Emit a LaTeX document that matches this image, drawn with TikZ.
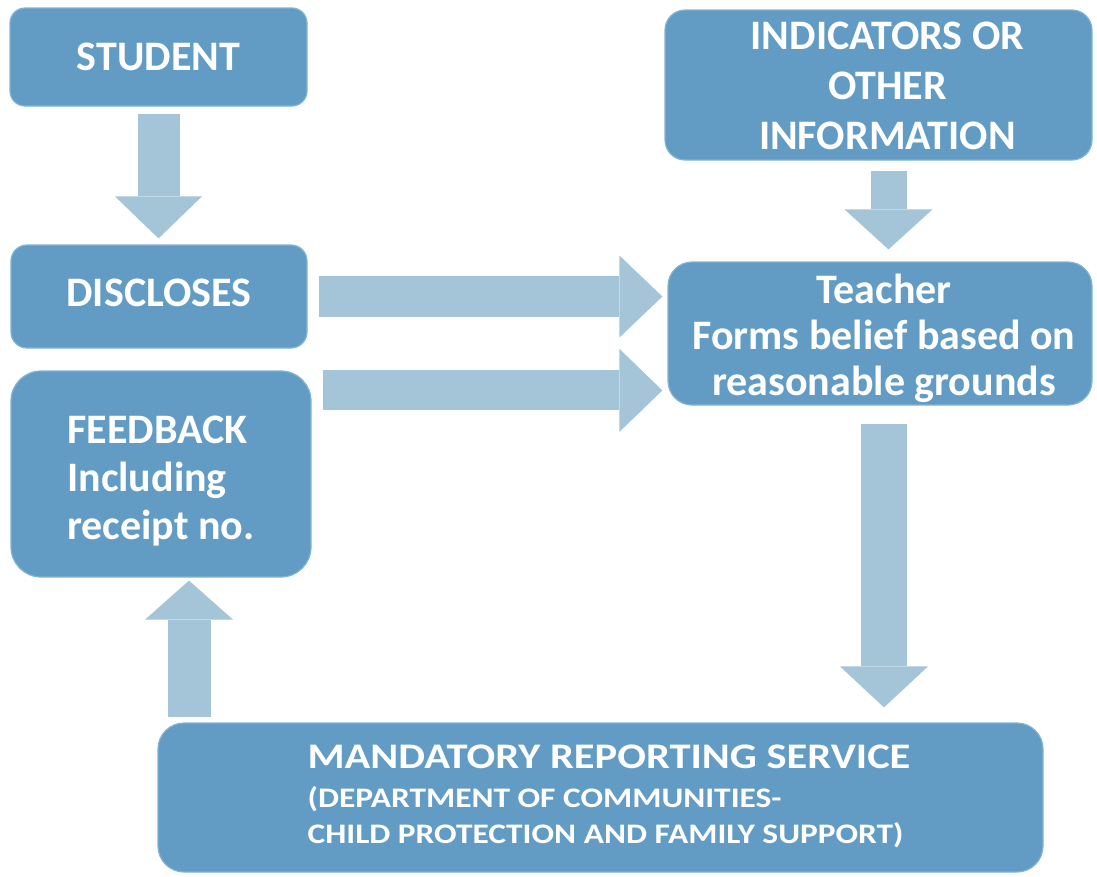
\documentclass[tikz,border=0pt]{standalone}
\usepackage{fontspec}
\setmainfont{Carlito}
\newfontfamily\widecarlito[FakeStretch=1.18]{Carlito}
\usetikzlibrary{arrows.meta}
\definecolor{boxblue}{RGB}{98,156,196}
\definecolor{boxrim}{RGB}{130,180,212}
\definecolor{flowblue}{RGB}{164,196,216}
\begin{document}
\begin{tikzpicture}[x=1pt,y=-1pt,
  box/.style={fill=boxblue, draw=boxrim, line width=1.2pt, rounded corners=#1,
    inner sep=0pt, text=white},
  box/.default=18pt,
  bigtext/.style={font=\bfseries\fontsize{42}{48}\selectfont},
  boxtext/.style={bigtext, text=white, inner sep=0pt},
  flow/.style n args={3}{color=flowblue, line width=#1,
    -{Triangle[length=#3, width=#2, line width=0pt]}}]
\useasboundingbox (0,0) rectangle (1097,876);

% boxes
\node[box=15pt, bigtext, minimum width=297pt, minimum height=98pt]
  (student) at (158.5,57) {STUDENT};
\node[box=20pt, minimum width=427pt, minimum height=150pt]
  (indicators) at (878.5,85) {};
\node[box=16pt, minimum width=296pt, minimum height=103pt]
  (discloses) at (159,296.5) {};
\node[box=24pt, minimum width=424pt, minimum height=143pt]
  (teacher) at (880,333.5) {};
\node[box=30pt, minimum width=300pt, minimum height=206pt]
  (feedback) at (161,474) {};
\node[box=26pt, minimum width=885pt, minimum height=149pt]
  (mandatory) at (600.5,797.5) {};

% box texts
\node[boxtext, align=center] (indicatorstext) at ([xshift=9pt,yshift=-1pt]indicators.center)
  {INDICATORS OR\\[2pt] OTHER\\[2pt] INFORMATION};
\node[boxtext] (disclosestext) at ([yshift=4pt]discloses.center) {DISCLOSES};
\node[boxtext, align=center, font=\bfseries\fontsize{42}{46}\selectfont]
  (teachertext) at ([xshift=4pt,yshift=-5pt]teacher.center)
  {Teacher\\ Forms belief based on\\ reasonable grounds};
\node[boxtext, align=left] (feedbacktext) at ([yshift=-7pt]feedback.center)
  {FEEDBACK\\ Including\\ receipt no.};
\node[anchor=north west, align=left, text=white, inner sep=0pt,
      font=\widecarlito\bfseries\fontsize{28.3}{36}\selectfont]
  (mandatorytext) at ([xshift=150pt,yshift=-22pt]mandatory.north west)
  {\fontsize{36}{39}\selectfont MANDATORY REPORTING SERVICE\\[3pt]
   (DEPARTMENT OF COMMUNITIES-\\
   CHILD PROTECTION AND FAMILY SUPPORT)};

% anchor points for the block arrows
\coordinate (fbout) at ([yshift=-20pt]feedback.north east);
\coordinate (indout) at ([xshift=10pt]indicators.south);
\coordinate (tout) at ([xshift=4pt]teacher.south);
\coordinate (mout) at ([xshift=28pt]feedback.south);

% block arrows
\draw[flow={42pt}{87pt}{42pt}, shorten <=7pt, shorten >=6pt]
  (student.south) -- (student.south |- discloses.north);
\draw[flow={41pt}{82pt}{43pt}, shorten <=11pt, shorten >=5pt]
  (discloses.east) -- (discloses.east -| teacher.west);
\draw[flow={40pt}{83pt}{43pt}, shorten <=11pt, shorten >=5pt]
  (fbout) -- (fbout -| teacher.west);
\draw[flow={36pt}{88pt}{40pt}, shorten <=10pt, shorten >=12pt]
  (indout) -- (indout |- teacher.north);
\draw[flow={46pt}{88pt}{41pt}, shorten <=18pt, shorten >=15pt]
  (tout) -- (tout |- mandatory.north);
\draw[flow={43pt}{88pt}{39pt}, shorten <=5pt, shorten >=3pt]
  (mout |- mandatory.north) -- (mout);
\end{tikzpicture}
\end{document}
